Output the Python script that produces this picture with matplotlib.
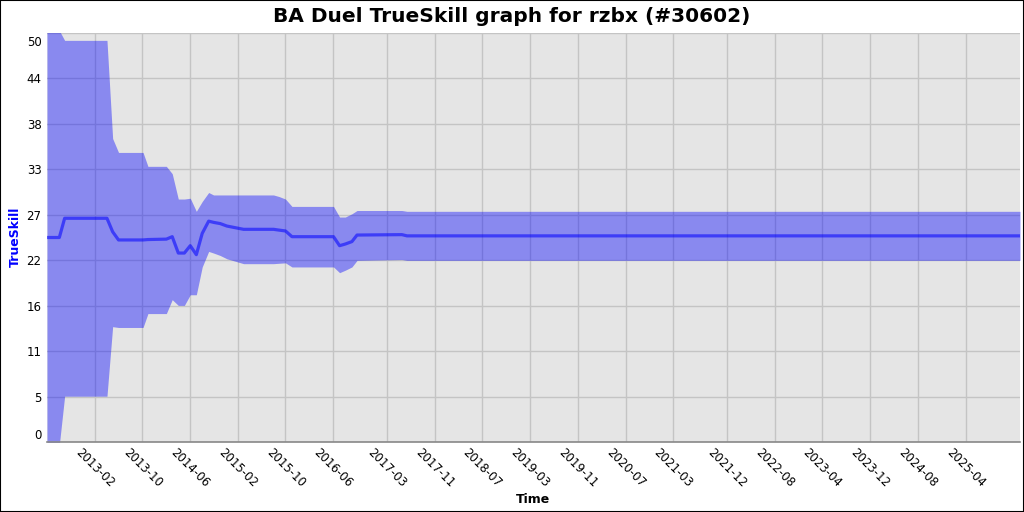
import matplotlib
matplotlib.use('Agg')
import matplotlib.pyplot as plt
from matplotlib.patches import Rectangle
import pandas as pd

# ---- data ----
dates = ['2012-06-01', '2012-08-03', '2012-08-30', '2013-04-03', '2013-05-02',
         '2013-06-01', '2013-10-04', '2013-10-29', '2014-01-31', '2014-03-02',
         '2014-04-02', '2014-05-03', '2014-06-02', '2014-07-03', '2014-08-02',
         '2014-09-04', '2014-09-29', '2014-11-02', '2014-12-06', '2015-03-01',
         '2015-08-01', '2015-08-30', '2015-10-01', '2015-11-03', '2016-06-02',
         '2016-07-03', '2016-08-01', '2016-09-04', '2016-09-30', '2017-05-17',
         '2017-06-12', '2026-01-04']
mu = [25.0, 25.0, 27.35, 27.35, 25.7,
      24.7, 24.7, 24.75, 24.8, 25.1,
      23.1, 23.1, 24.0, 22.9, 25.5,
      27.0, 26.85, 26.7, 26.4, 26.0,
      26.0, 25.9, 25.8, 25.1, 25.1,
      24.0, 24.2, 24.5, 25.3, 25.35,
      25.2, 25.2]
lower = [-0.3, -0.3, 5.6, 5.6, 14.1,
         14.0, 14.0, 15.7, 15.7, 17.4,
         16.7, 16.7, 18.0, 18.0, 21.4,
         23.3, 23.1, 22.8, 22.4, 21.8,
         21.8, 21.85, 21.9, 21.4, 21.4,
         20.7, 21.0, 21.4, 22.2, 22.3,
         22.2, 22.2]
upper = [50.3, 50.3, 49.1, 49.1, 37.1,
         35.4, 35.4, 33.7, 33.7, 32.8,
         29.7, 29.7, 29.8, 28.2, 29.4,
         30.5, 30.2, 30.2, 30.2, 30.2,
         30.2, 30.0, 29.7, 28.8, 28.8,
         27.5, 27.5, 27.9, 28.3, 28.3,
         28.2, 28.2]
x_tick_labels = ['2013-02', '2013-10', '2014-06', '2015-02', '2015-10', '2016-06',
                 '2017-03', '2017-11', '2018-07', '2019-03', '2019-11', '2020-07',
                 '2021-03', '2021-12', '2022-08', '2023-04', '2023-12', '2024-08',
                 '2025-04']
y_ticks = [0, 5.556, 11.111, 16.667, 22.222, 27.778, 33.333, 38.889, 44.444, 50]
y_tick_labels = ['0', '5', '11', '16', '22', '27', '33', '38', '44', '50']
x_range = ['2012-06-01', '2026-01-04']
y_range = [0, 50]

# ---- figure ----
plt.rcParams['font.family'] = ['DejaVu Sans']
fig = plt.figure(figsize=(10.24, 5.12), dpi=100)
ax = fig.add_axes([47 / 1024, 70 / 512, 973 / 1024, 409 / 512])
ax.set_facecolor('#e5e5e5')

x = pd.to_datetime(dates)
ax.fill_between(x, lower, upper, color='blue', alpha=0.4, lw=0, zorder=2)
ax.plot(x, mu, color='blue', alpha=0.55, lw=2.3, zorder=3)

ax.set_xlim(pd.Timestamp(x_range[0]), pd.Timestamp(x_range[1]))
ax.set_ylim(*y_range)

xt = pd.to_datetime([s + '-01' for s in x_tick_labels])
ax.set_xticks(xt)
ax.set_xticklabels(x_tick_labels, rotation=-45, ha='center', va='top', fontsize=8.5)

# y ticks: the end labels are pushed inside the axis range
ax.set_yticks(y_ticks)
ax.set_yticklabels(y_tick_labels[:-1] + [''], fontsize=8.5)
ax.get_yticklabels()[0].set_va('bottom')
ax.annotate(y_tick_labels[-1], xy=(0, y_ticks[-1]), xycoords=('axes fraction', 'data'),
            xytext=(-5, -9), textcoords='offset pixels', ha='right', va='center',
            fontsize=8.5)
ax.tick_params(axis='both', length=0)
ax.tick_params(axis='x', pad=3)
ax.tick_params(axis='y', pad=4)

ax.grid(True, color='#c4c4c4', lw=1)
ax.set_axisbelow(True)
for s in ['top', 'right', 'left']:
    ax.spines[s].set_visible(False)
ax.spines['bottom'].set_color('#888888')
ax.spines['bottom'].set_linewidth(1.2)

ax.set_xlabel('Time', fontsize=9, fontweight='bold', labelpad=0)
ax.xaxis.set_label_coords((533 - 47) / 973, (442 - 493) / 409)
ax.set_ylabel('TrueSkill', fontsize=9, fontweight='bold', color='blue')
ax.yaxis.set_label_coords((22 - 47) / 973, (442 - 237) / 409)

fig.text(0.5, 1 - 17 / 512, 'BA Duel TrueSkill graph for rzbx (#30602)',
         ha='center', va='center', fontsize=14.5, fontweight='bold')
fig.patches.append(Rectangle((0, 0), 1, 1, transform=fig.transFigure, fill=False,
                             edgecolor='black', lw=1.5))

fig.savefig('out.png', dpi=100)
